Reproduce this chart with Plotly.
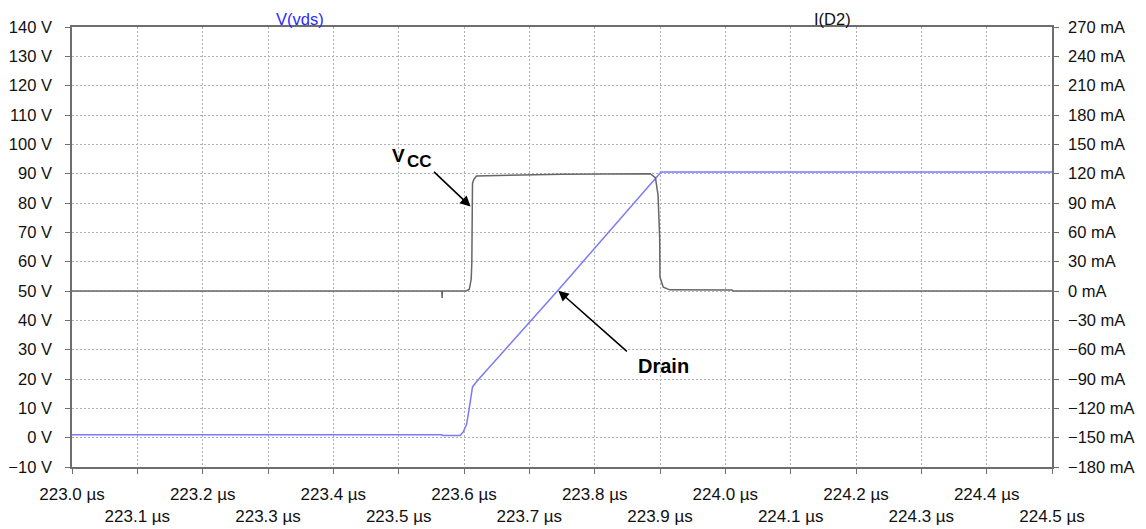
import plotly.graph_objects as go

# V(vds) trace, time in microseconds, volts
t_vds = [223.0, 223.566, 223.567, 223.594, 223.599, 223.604, 223.608, 223.613,
         223.620, 223.745, 223.9016, 224.5]
v_vds = [1.0, 1.0, 0.7, 0.75, 2.0, 4.6, 10.0, 17.3,
         19.3, 50.5, 90.6, 90.6]

# I(D2) trace, time in microseconds, milliamps
t_id2 = [223.0, 223.566, 223.5665, 223.567, 223.603, 223.608, 223.611, 223.612,
         223.613, 223.615, 223.619, 223.75, 223.885, 223.893, 223.897, 223.8995,
         223.900, 223.905, 223.915, 224.01, 224.012, 224.5]
i_id2 = [0.0, 0.0, -7.0, 0.0, 0.0, 1.5, 12.0, 29.4,
         110.0, 114.0, 117.6, 119.4, 120.0, 116.0, 98.0, 55.0,
         14.0, 3.9, 1.2, 1.0, 0.0, 0.0]

x_ticks = [round(223.0 + 0.1 * k, 1) for k in range(16)]
x_labels = [(f"{v:.1f} µs" if k % 2 == 0 else f"<br>{v:.1f} µs") for k, v in enumerate(x_ticks)]

v_ticks = list(range(-10, 141, 10))
v_labels = [f"{v} V".replace("-", "−") for v in v_ticks]

i_ticks = list(range(-180, 271, 30))
i_labels = [f"{v} mA".replace("-", "−") for v in i_ticks]

FONT = "Liberation Sans, Arial, sans-serif"
GRID = "#b0b0b0"
LINE = "#6e6e6e"
DOTS = "2px,2px"

fig = go.Figure()
fig.add_trace(go.Scatter(x=t_id2, y=i_id2, yaxis="y2", mode="lines",
                         line=dict(color="#666666", width=1.5), name="I(D2)"))
fig.add_trace(go.Scatter(x=t_vds, y=v_vds, mode="lines",
                         line=dict(color="#7a7aff", width=1.5), name="V(vds)"))

# page body has an 8px margin, so the margins are shifted to compensate
fig.update_layout(
    width=1146, height=529,
    margin=dict(l=64, r=102, t=19, b=70),
    paper_bgcolor="white", plot_bgcolor="white",
    showlegend=False,
    font=dict(family=FONT, size=17, color="#111111"),
    xaxis=dict(range=[223.0, 224.5], tickvals=x_ticks, ticktext=x_labels,
               tickangle=0,
               showgrid=True, gridcolor=GRID, griddash=DOTS, gridwidth=1,
               showline=True, linecolor=LINE, linewidth=1.5, mirror=True,
               ticks="outside", ticklen=5, tickcolor=LINE, zeroline=False,
               ticklabelstandoff=6, automargin=False),
    yaxis=dict(range=[-10, 140], tickvals=v_ticks, ticktext=v_labels,
               tickfont=dict(size=16.5),
               showgrid=True, gridcolor=GRID, griddash=DOTS, gridwidth=1,
               showline=True, linecolor=LINE, linewidth=1.5,
               ticks="outside", ticklen=5, tickcolor=LINE, zeroline=False,
               ticklabelstandoff=10, automargin=False),
    yaxis2=dict(range=[-180, 270], tickvals=i_ticks, ticktext=i_labels,
                tickfont=dict(size=16.5),
                overlaying="y", side="right", showgrid=False,
                showline=True, linecolor=LINE, linewidth=1.5,
                ticks="outside", ticklen=5, tickcolor=LINE, zeroline=False,
                ticklabelstandoff=6, automargin=False),
)

# trace titles
fig.add_annotation(text="V(vds)", xref="paper", yref="paper", x=0.2327, y=1,
                   xanchor="center", yanchor="bottom", yshift=-3, showarrow=False,
                   font=dict(size=16.5, color="#2b2bff"))
fig.add_annotation(text="I(D2)", xref="paper", yref="paper", x=0.7765, y=1,
                   xanchor="center", yanchor="bottom", yshift=-3, showarrow=False,
                   font=dict(size=16.5, color="#111111"))

# callouts
fig.add_annotation(x=223.610, y=78.8, ax=-38, ay=-36, text="", showarrow=True,
                   arrowhead=2, arrowsize=1.3, arrowwidth=1.6, arrowcolor="black")
fig.add_annotation(x=223.7444, y=50.1, ax=70, ay=62, text="", showarrow=True,
                   arrowhead=2, arrowsize=1.3, arrowwidth=1.6, arrowcolor="black")
fig.add_annotation(x=223.5005, y=96.3, text="<b>V</b>", showarrow=False,
                   font=dict(size=19, color="black"))
fig.add_annotation(x=223.532, y=94.2, text="<b>CC</b>", showarrow=False,
                   font=dict(size=17, color="black"))
fig.add_annotation(x=223.9046, y=24.5, text="<b>Drain</b>", showarrow=False,
                   font=dict(size=20, color="black"))

fig.write_html("out.html")
